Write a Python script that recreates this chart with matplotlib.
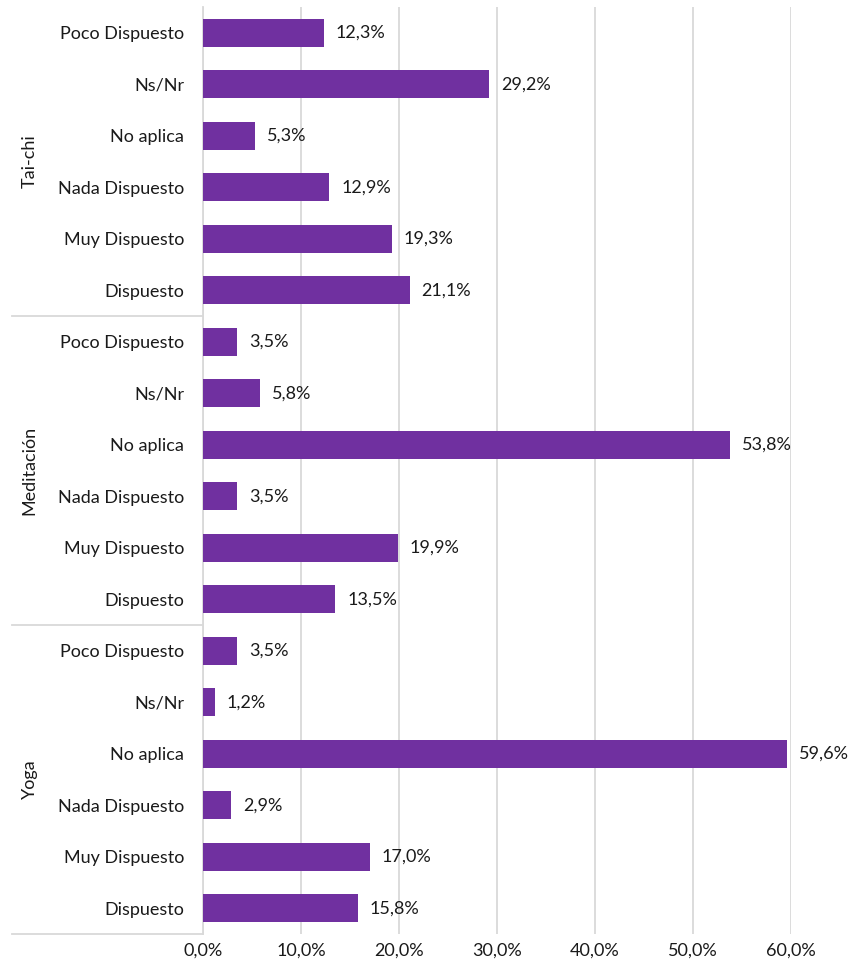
import matplotlib.pyplot as plt
from matplotlib.transforms import blended_transform_factory

plt.rcParams["font.family"] = ["Lato", "DejaVu Sans"]

# Datos por actividad (de arriba hacia abajo)
grupos = ["Tai-chi", "Meditación", "Yoga"]
respuestas = ["Poco Dispuesto", "Ns/Nr", "No aplica", "Nada Dispuesto", "Muy Dispuesto", "Dispuesto"]
tai_chi = [12.3, 29.2, 5.3, 12.9, 19.3, 21.1]
meditacion = [3.5, 5.8, 53.8, 3.5, 19.9, 13.5]
yoga = [3.5, 1.2, 59.6, 2.9, 17.0, 15.8]
ticks_x = [0, 10, 20, 30, 40, 50, 60]

valores = tai_chi + meditacion + yoga
etiquetas = respuestas * len(grupos)
posiciones = list(range(len(valores)))

color_barra = "#7030A0"
color_linea = "#d9d9d9"

fig = plt.figure(figsize=(8.66, 9.68), dpi=100)
ax = fig.add_axes([0.2344, 0.0351, 0.679, 0.9577])

ax.barh(posiciones, valores, height=0.54, color=color_barra, zorder=3)

# Etiquetas con el valor de cada barra
for y, v in zip(posiciones, valores):
    ax.annotate(f"{v:.1f}%".replace(".", ","), xy=(v, y), xytext=(8.5, 0),
                textcoords="offset points", va="center", ha="left",
                fontsize=13, color="#1a1a1a", annotation_clip=False)

ax.set_xlim(0, 60)
ax.set_ylim(len(valores) - 0.5, -0.5)
ax.set_xticks(ticks_x)
ax.set_xticklabels([f"{t:.1f}%".replace(".", ",") for t in ticks_x])
ax.set_yticks(posiciones)
ax.set_yticklabels(etiquetas)
ax.tick_params(axis="both", length=0, labelsize=13, colors="#1a1a1a")
ax.tick_params(axis="y", pad=13.5)
ax.tick_params(axis="x", pad=6)
ax.grid(axis="x", color=color_linea, linewidth=1.3, zorder=0)

for lado in ["top", "right", "bottom"]:
    ax.spines[lado].set_visible(False)
ax.spines["left"].set_color(color_linea)
ax.spines["left"].set_linewidth(1.3)

# Separadores y nombres de cada grupo a la izquierda
trans = blended_transform_factory(ax.transAxes, ax.transData)
n = len(respuestas)
for i, g in enumerate(grupos):
    fin = (i + 1) * n - 0.5
    ax.plot([-0.325, 0], [fin, fin], transform=trans, color=color_linea,
            linewidth=1.3, clip_on=False)
    ax.text(-0.295, i * n + (n - 1) / 2, g, transform=trans, rotation=90,
            ha="center", va="center", fontsize=13, color="#1a1a1a")

fig.savefig("out.png", dpi=100)
